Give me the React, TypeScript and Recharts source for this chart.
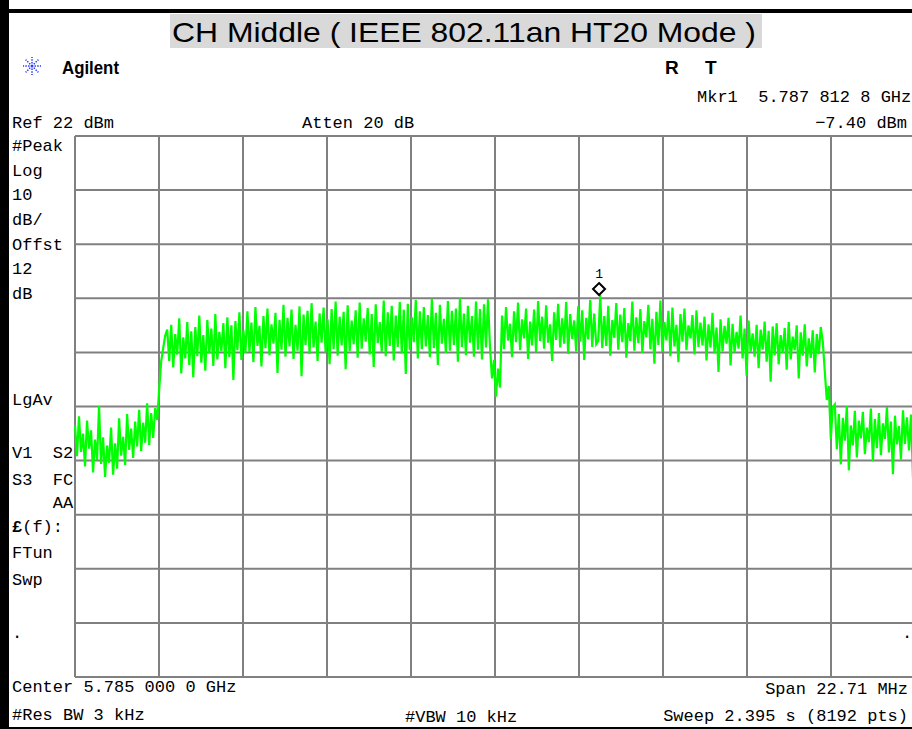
import { LineChart, Line, XAxis, YAxis, CartesianGrid, ReferenceDot } from "recharts";

// analyzer settings
const SPAN_MHZ = 22.71;
const freqGrid = [-11.355, -9.084, -6.813, -4.542, -2.271, 0, 2.271, 4.542, 6.813, 9.084, 11.355];
const levelGrid = [22, 12, 2, -8, -18, -28, -38, -48, -58, -68, -78];
const marker = { offsetMHz: 2.8128, dbm: -7.4 };

// trace, dBm, left to right
const lowerSkirt = [
  -31.5, -37.2, -29.8, -36.4, -33.0, -39.1, -30.6, -35.8, -32.4, -40.2,
  -34.1, -37.9, -27.9, -38.6, -33.7, -41.0, -35.2, -38.4, -31.9, -40.6,
  -34.8, -39.5, -30.2, -37.1, -33.6, -38.8, -29.4, -36.0, -32.1, -37.5,
  -30.8, -35.4, -28.6, -36.2, -31.0, -34.7, -27.4, -35.1, -29.2, -33.8,
  -28.3,
];
const leftRise = [-30.5, -24.8, -19.6, -17.2, -14.9];
const bandLeft = [
  -13.8, -19.6, -12.9, -20.8, -14.6, -18.4, -11.7, -21.9, -15.2, -19.1,
  -12.4, -20.3, -14.1, -22.6, -13.3, -18.7, -11.2, -19.9, -14.8, -21.4,
  -12.0, -18.2, -13.6, -20.5, -10.9, -19.3, -14.2, -17.8, -12.6, -20.9,
  -11.5, -18.9, -13.0, -23.1, -12.2, -17.6, -10.6, -19.4, -13.9, -18.1,
  -10.4, -17.9, -12.5, -19.8, -9.6, -16.8, -13.1, -20.6, -11.3, -17.2,
  -9.9, -18.5, -12.8, -16.4, -10.7, -21.8, -12.0, -17.5, -9.2, -18.8,
  -11.6, -16.9, -10.1, -19.2, -12.9, -17.7, -9.5, -22.4, -11.0, -16.6,
  -10.3, -18.3, -8.9, -17.1, -12.3, -19.6, -10.8, -16.2, -9.7, -18.0,
  -11.9, -20.2, -10.0, -17.4, -8.6, -18.6, -11.4, -16.7, -10.5, -21.1,
  -9.3, -17.8, -12.1, -16.5, -10.2, -19.0, -8.8, -17.3, -11.7, -16.0,
  -9.8, -18.4, -10.9, -20.7, -9.1, -16.3, -12.4, -17.9, -8.4, -18.7,
  -10.6, -16.8, -9.4, -19.5, -11.2, -17.0, -8.7, -18.2, -10.1, -22.0,
  -9.0, -17.6, -11.5, -16.1, -8.3, -19.1, -10.4, -17.4, -9.6, -16.9,
  -11.1, -18.9, -8.1, -17.2, -10.7, -20.3, -9.2, -16.4, -11.8, -18.1,
  -8.5, -17.7, -10.3, -16.6, -9.9, -19.7, -8.0, -17.0, -10.8, -18.5,
  -9.4, -16.2, -11.3, -18.8, -8.6, -17.5, -10.0, -19.3, -9.1, -17.1,
  -8.2,
];
const centerDip = [-17.0, -22.8, -19.4, -26.2, -21.0, -24.5];
const bandRight = [
  -11.2, -17.4, -9.6, -15.8, -12.7, -18.9, -10.4, -16.1, -8.8, -17.6,
  -11.9, -15.4, -9.9, -19.2, -12.3, -16.7, -10.1, -18.0, -8.5, -15.9,
  -11.4, -17.3, -9.3, -16.2, -12.8, -19.6, -10.6, -15.7, -9.0, -17.1,
  -11.7, -16.4, -8.7, -18.3, -10.9, -15.5, -12.1, -17.8, -9.5, -16.0,
  -10.2, -19.4, -11.6, -15.6, -8.3, -17.0, -10.8, -16.5, -15.9, -7.4,
  -17.2, -11.3, -16.8, -9.4, -18.6, -12.0, -15.3, -8.9, -17.5, -11.0,
  -16.1, -9.8, -19.0, -12.6, -15.9, -8.6, -17.7, -11.5, -16.3, -10.0,
  -18.1, -12.2, -15.2, -9.2, -17.4, -11.8, -20.1, -10.5, -16.6, -8.4,
  -17.9, -12.4, -15.8, -10.3, -18.7, -9.7, -16.9, -12.9, -19.8, -10.9,
  -16.0, -9.9, -17.6, -13.0, -15.4, -11.1, -18.4, -10.2, -17.0, -12.5,
  -16.7, -11.4, -19.5, -12.8, -17.1, -10.7, -18.2, -13.4, -21.6, -11.9,
  -17.8, -13.1, -16.4, -11.6, -20.4, -12.7, -18.0, -14.2, -17.3, -11.2,
  -19.1, -13.6, -22.3, -12.1, -17.9, -14.5, -18.8, -12.9, -20.9, -13.8,
  -17.5, -12.3, -19.7, -14.0, -23.4, -13.2, -18.5, -12.6, -20.2, -14.8,
  -18.1, -13.5, -21.2, -12.4, -19.3, -15.1, -17.6, -13.0, -22.8, -14.3,
  -18.6, -12.8, -20.6, -15.4, -19.0, -13.9, -21.7, -14.6, -18.3, -13.3,
];
const rightFall = [-16.0, -21.5, -26.8, -24.2, -34.0, -28.1];
const upperSkirt = [
  -27.6, -35.9, -29.4, -38.7, -30.1, -34.3, -27.9, -39.8, -31.5, -35.2,
  -28.8, -37.4, -30.6, -33.9, -29.0, -36.8, -31.9, -34.6, -28.4, -38.1,
  -30.3, -35.7, -29.2, -37.0, -31.1, -34.0, -28.1, -36.5, -30.8, -40.5,
  -29.7, -35.0, -31.6, -37.8, -28.7, -34.9, -30.0, -36.1, -29.5, -41.2,
  -31.3,
];

const trace = [...lowerSkirt, ...leftRise, ...bandLeft, ...centerDip, ...bandRight, ...rightFall, ...upperSkirt];
const step = SPAN_MHZ / (trace.length - 1);
const data = trace.map((dbm, i) => ({ f: -SPAN_MHZ / 2 + i * step, dbm }));

const MONO = "'Liberation Mono', 'DejaVu Sans Mono', monospace";
const SANS = "'Liberation Sans', Arial, sans-serif";

const leftLabels: [string, number][] = [
  ["#Peak", 151], ["Log", 176], ["10", 200], ["dB/", 225], ["Offst", 250], ["12", 274], ["dB", 299],
  ["LgAv", 405], ["V1  S2", 458], ["S3  FC", 485], ["    AA", 508], ["FTun", 558], ["Swp", 585],
];

function MarkerShape(props: any) {
  const { cx, cy } = props;
  const y = cy - 6;
  return (
    <g>
      <polygon
        points={`${cx},${y - 6} ${cx + 6},${y} ${cx},${y + 6} ${cx - 6},${y}`}
        fill="#fff"
        stroke="#000"
        strokeWidth={2}
      />
      <text x={cx} y={y - 11} textAnchor="middle" fontFamily={MONO} fontSize={13} fill="#000">
        1
      </text>
    </g>
  );
}

function AgilentStar() {
  const rays = [0, 45, 90, 135, 180, 225, 270, 315];
  return (
    <g transform="translate(32,66)">
      {rays.map((a) => {
        const r = (a * Math.PI) / 180;
        return (
          <line
            key={a}
            x1={Math.cos(r) * 2.5}
            y1={Math.sin(r) * 2.5}
            x2={Math.cos(r) * 9}
            y2={Math.sin(r) * 9}
            stroke="#2a3cff"
            strokeWidth={1.5}
            strokeDasharray="1.5 1.2"
          />
        );
      })}
      <circle r={1.5} fill="#2a3cff" />
    </g>
  );
}

export default function App() {
  return (
    <div style={{ position: "relative", width: 912, height: 729, overflow: "hidden", background: "#fff" }}>
      <style>{"body{margin:0}"}</style>
      <div style={{ position: "absolute", left: 0, top: 0 }}>
        <LineChart width={930} height={729} data={data} margin={{ top: 136, right: 15, bottom: 52, left: 75 }}>
          <CartesianGrid stroke="#808080" strokeWidth={2} />
          <XAxis dataKey="f" type="number" domain={[-11.355, 11.355]} ticks={freqGrid} hide />
          <YAxis type="number" domain={[-78, 22]} ticks={levelGrid} hide />
          <Line
            dataKey="dbm"
            stroke="#00ff00"
            strokeWidth={2.2}
            strokeLinejoin="miter"
            dot={false}
            isAnimationActive={false}
          />
          <ReferenceDot x={marker.offsetMHz} y={marker.dbm} shape={MarkerShape} />
        </LineChart>
      </div>
      <svg
        width={912}
        height={729}
        style={{ position: "absolute", left: 0, top: 0, pointerEvents: "none" }}
      >
        {/* frame */}
        <rect x={0} y={0} width={9} height={729} fill="#000" />
        <rect x={0} y={9} width={912} height={4} fill="#000" />
        <rect x={0} y={727} width={912} height={2} fill="#000" />

        {/* title */}
        <rect x={170} y={14} width={592} height={34} fill="#d9d9d9" />
        <text x={172} y={42} fontFamily={SANS} fontSize={28} textLength={584} lengthAdjust="spacingAndGlyphs" fill="#000">
          CH Middle ( IEEE 802.11an HT20 Mode )
        </text>

        <AgilentStar />
        <text x={62} y={74} fontFamily={SANS} fontWeight="bold" fontSize={19} textLength={57} lengthAdjust="spacingAndGlyphs">
          Agilent
        </text>
        <text x={665} y={74} fontFamily={SANS} fontWeight="bold" fontSize={19}>R</text>
        <text x={705} y={74} fontFamily={SANS} fontWeight="bold" fontSize={19}>T</text>

        <g fontFamily={MONO} fontSize={17} fill="#000" style={{ whiteSpace: "pre" }}>
          <text x={697} y={102} xmlSpace="preserve">Mkr1  5.787 812 8 GHz</text>
          <text x={12} y={128}>Ref 22 dBm</text>
          <text x={302} y={128}>Atten 20 dB</text>
          <text x={907} y={128} textAnchor="end">−7.40 dBm</text>
          {leftLabels.map(([s, y]) => (
            <text key={s} x={12} y={y} xmlSpace="preserve">{s}</text>
          ))}
          <text x={12} y={532}>
            <tspan fontWeight="bold">£</tspan>(f):
          </text>
          <text x={12} y={638}>.</text>
          <text x={902} y={638}>.</text>
          <text x={12} y={692} xmlSpace="preserve">Center 5.785 000 0 GHz</text>
          <text x={908} y={694} textAnchor="end">Span 22.71 MHz</text>
          <text x={12} y={720}>#Res BW 3 kHz</text>
          <text x={405} y={722}>#VBW 10 kHz</text>
          <text x={908} y={721} textAnchor="end">Sweep 2.395 s (8192 pts)</text>
        </g>
      </svg>
    </div>
  );
}
